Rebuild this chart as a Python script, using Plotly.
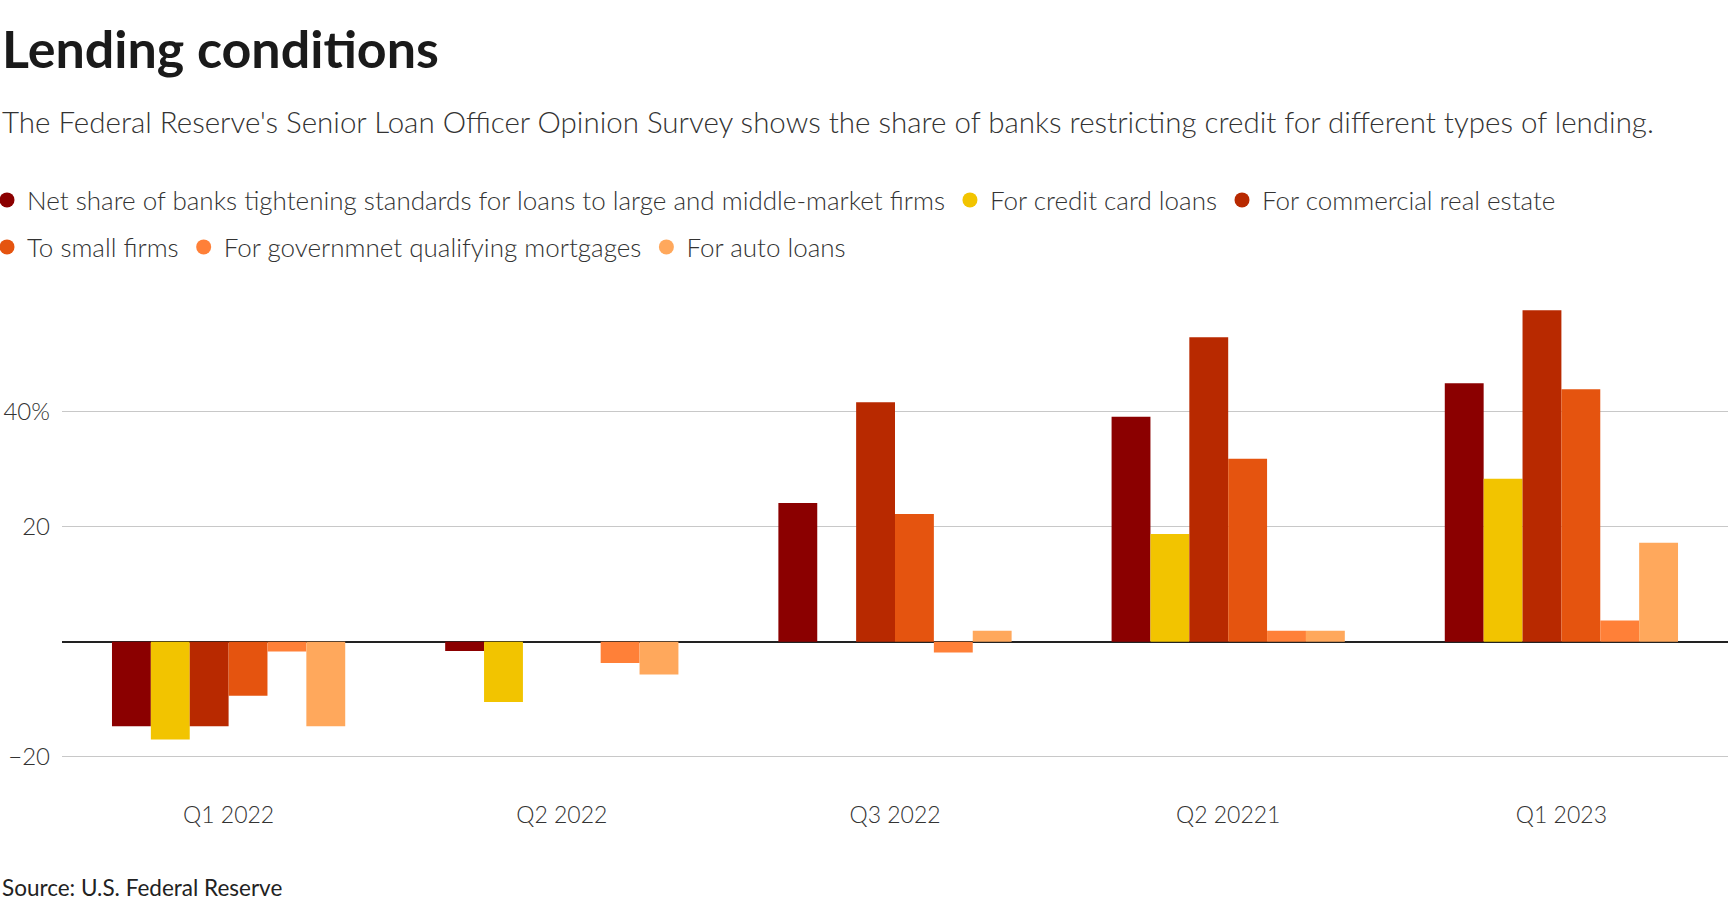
import plotly.graph_objects as go

categories = ["Q1 2022", "Q2 2022", "Q3 2022", "Q2 20221", "Q1 2023"]

large_mid_firms = [-14.7, -1.6, 24.1, 39.1, 44.9]
credit_card = [-17.0, -10.5, 0.0, 18.7, 28.3]
commercial_re = [-14.7, 0.0, 41.6, 52.9, 57.6]
small_firms = [-9.4, 0.0, 22.2, 31.8, 43.9]
gov_mortgages = [-1.7, -3.7, -1.9, 1.9, 3.7]
auto_loans = [-14.7, -5.7, 1.9, 1.9, 17.2]

series_names = [
    "Net share of banks tightening standards for loans to large and middle-market firms",
    "For credit card loans",
    "For commercial real estate",
    "To small firms",
    "For governmnet qualifying mortgages",
    "For auto loans",
]
series_values = [large_mid_firms, credit_card, commercial_re, small_firms, gov_mortgages, auto_loans]
colors = ["#8b0000", "#f2c400", "#b82900", "#e5540f", "#ff8038", "#ffa85c"]
legend_rows = ["legend", "legend", "legend", "legend2", "legend2", "legend2"]

ytick_vals = [-20, 20, 40]
ytick_text = ["\u221220", "20", "40%"]

FONT = "Lato"
W, H = 1728, 908
ML, MR, MT, MB = 62, 0, 285, 111
PW = W - ML - MR
PH = H - MT - MB


def px_x(x):
    return (x - ML) / PW


def px_y(y):
    return (H - MB - y) / PH


fig = go.Figure()
for name, vals, col in zip(series_names, series_values, colors):
    fig.add_trace(go.Bar(x=categories, y=vals, name=name, marker=dict(color=col, line=dict(width=0)),
                         showlegend=False))
for name, col, lg in zip(series_names, colors, legend_rows):
    fig.add_trace(go.Scatter(x=[None], y=[None], mode="markers", name=name, legend=lg,
                             marker=dict(color=col, size=15, symbol="circle"), showlegend=True))

legend_common = dict(orientation="h", xanchor="left", yanchor="middle", bgcolor="rgba(0,0,0,0)",
                     font=dict(family=FONT, size=26, color="#333333", weight=300), itemclick=False,
                     traceorder="normal", tracegroupgap=0)

fig.update_layout(
    width=W, height=H,
    margin=dict(l=ML, r=MR, t=MT, b=MB, autoexpand=False),
    paper_bgcolor="white", plot_bgcolor="white",
    barmode="group", bargap=0.3, bargroupgap=0,
    font=dict(family=FONT, color="#333333"),
    legend=dict(x=px_x(-13), y=px_y(200), **legend_common),
    legend2=dict(x=px_x(-13), y=px_y(247), **legend_common),
    xaxis=dict(showgrid=False, showline=False, ticks="",
               tickfont=dict(family=FONT, size=23, color="#333333", weight=300),
               ticklabelstandoff=2, fixedrange=True),
    yaxis=dict(range=[-27, 62], tickvals=ytick_vals, ticktext=ytick_text, showgrid=True,
               gridcolor="#c8c8c8", gridwidth=1, zeroline=True, zerolinecolor="#222222", zerolinewidth=2,
               showline=False, ticks="", tickfont=dict(family=FONT, size=24, color="#333333", weight=300),
               ticklabelstandoff=11, fixedrange=True),
    annotations=[
        dict(text="<b>Lending conditions</b>", x=px_x(0), y=px_y(48), xref="paper", yref="paper",
             xanchor="left", yanchor="middle", showarrow=False,
             font=dict(family=FONT, size=52, color="#1a1a1a")),
        dict(text="The Federal Reserve's Senior Loan Officer Opinion Survey shows the share of banks restricting credit for different types of lending.",
             x=px_x(0), y=px_y(121), xref="paper", yref="paper", xanchor="left", yanchor="middle",
             showarrow=False, font=dict(family=FONT, size=29.5, color="#333333", weight=300)),
        dict(text="Source: U.S. Federal Reserve", x=px_x(0), y=px_y(887), xref="paper", yref="paper",
             xanchor="left", yanchor="middle", showarrow=False,
             font=dict(family=FONT, size=22.5, color="#222222")),
    ],
)

fig.write_html("out.html", config={"displayModeBar": False},
               post_script="document.body.style.margin='0';document.body.style.overflow='hidden';")
